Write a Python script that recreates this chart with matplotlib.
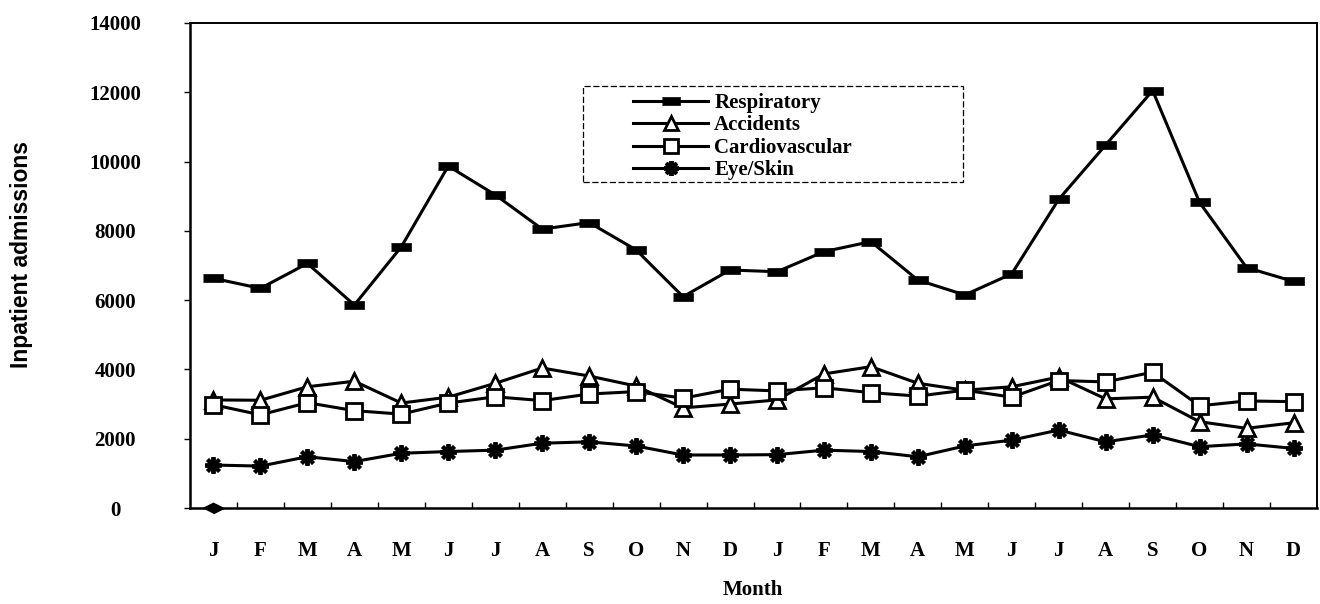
import matplotlib
matplotlib.use("Agg")
import matplotlib.pyplot as plt
from matplotlib import font_manager
from matplotlib.patches import Rectangle

MONTHS = list("JFMAMJJASOND") * 2

respiratory = [6630, 6340, 7060, 5860, 7540, 9870, 9040, 8050, 8240, 7450, 6100, 6870,
               6820, 7400, 7690, 6580, 6150, 6760, 8910, 10480, 12050, 8820, 6940, 6540]
accidents = [3120, 3110, 3500, 3660, 3030, 3200, 3600, 4040, 3810, 3520, 2890, 3000,
             3120, 3870, 4080, 3600, 3400, 3500, 3780, 3150, 3200, 2490, 2300, 2460]
cardiovascular = [2980, 2690, 3040, 2810, 2710, 3030, 3210, 3100, 3290, 3360, 3170, 3430,
                  3380, 3470, 3330, 3230, 3400, 3200, 3680, 3640, 3920, 2950, 3090, 3070]
eye_skin = [1240, 1210, 1480, 1340, 1580, 1630, 1670, 1870, 1910, 1790, 1530, 1530,
            1540, 1670, 1630, 1480, 1790, 1960, 2250, 1910, 2110, 1770, 1850, 1720]
# lone marker sitting on the axis at the first January
extra_x = [0]
extra_y = [0]

SERIF = "Liberation Serif"
names = font_manager.get_font_names()
NARROW = "Liberation Sans Narrow" if "Liberation Sans Narrow" in names else "Liberation Sans"

W, H = 1320, 604
fig = plt.figure(figsize=(W / 100, H / 100), dpi=100)
ax = fig.add_axes([190 / W, 96 / H, 1127 / W, 485 / H])

x = list(range(len(MONTHS)))
bar = [(-1, -0.42), (1, -0.42), (1, 0.42), (-1, 0.42)]
diamond = [(-1, 0), (0, 0.5), (1, 0), (0, -0.5)]

ax.plot(x, respiratory, color="black", lw=2.2, marker=bar, ms=15,
        mfc="black", mec="black", mew=0.5, label="Respiratory")
ax.plot(x, accidents, color="black", lw=2.2, marker="^", ms=11,
        mfc="white", mec="black", mew=2, label="Accidents")
ax.plot(x, cardiovascular, color="black", lw=2.2, marker="s", ms=11,
        mfc="white", mec="black", mew=2, label="Cardiovascular")
ax.plot(x, eye_skin, color="black", lw=2.2, marker=(8, 2, 0), ms=12,
        mec="black", mew=2.8, label="Eye/Skin")
ax.plot(extra_x, extra_y, ls="none", marker=diamond, ms=15, color="black",
        clip_on=False, zorder=5)

ax.set_xlim(-0.5, 23.5)
ax.set_ylim(0, 14000)
ax.set_yticks(range(0, 14001, 2000))
ax.set_xticks(x)
ax.set_xticklabels(MONTHS)
ax.set_xticks([i + 0.5 for i in range(23)], minor=True)
ax.tick_params(axis="x", which="major", length=0, pad=24)
ax.tick_params(axis="x", which="minor", direction="in", length=4, width=1)
ax.tick_params(axis="y", direction="out", length=4, width=1, pad=50)
for lab in ax.get_yticklabels() + ax.get_xticklabels():
    lab.set_fontfamily(SERIF)
    lab.set_fontweight("bold")
    lab.set_fontsize(15)
for lab in ax.get_yticklabels():
    lab.set_horizontalalignment("center")

for side in ["left", "bottom"]:
    ax.spines[side].set_linewidth(1.8)
for side in ["top", "right"]:
    ax.spines[side].set_linewidth(1.4)

box = Rectangle((0.349, 0.672), 0.337, 0.198, transform=ax.transAxes,
                facecolor="white", edgecolor="black", lw=0.9,
                ls=(0, (5, 2)), zorder=4)
ax.add_patch(box)
ax.legend(loc="upper left", bbox_to_anchor=((633 - 190) / 1127, (508 - 93) / 485),
          frameon=False, borderaxespad=0, borderpad=0, handlelength=3.6,
          handletextpad=0.3, labelspacing=0.12, markerscale=0.9,
          prop={"family": SERIF, "weight": "bold", "size": 15})

fig.text(22 / W, 1 - 254 / H, "Inpatient admissions", rotation=90,
         ha="center", va="center", fontsize=16.5, fontweight="bold", family=NARROW)
fig.text(753 / W, 1 - 590 / H, "Month", ha="center", va="center",
         fontsize=15, fontweight="bold", family=SERIF)

fig.savefig("out.png", dpi=100, facecolor="white")
